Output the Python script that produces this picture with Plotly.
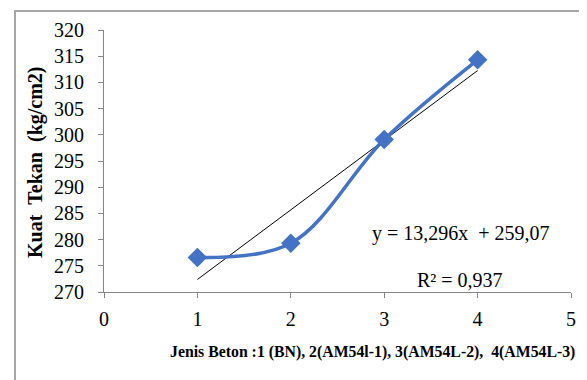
import numpy as np
import plotly.graph_objects as go

x_vals = [1, 2, 3, 4]
y_vals = [276.6, 279.3, 299.1, 314.3]
x_ticks = [0, 1, 2, 3, 4, 5]
y_ticks = [270, 275, 280, 285, 290, 295, 300, 305, 310, 315, 320]
eq_text = "y = 13,296x&nbsp;&nbsp;+ 259,07"
r2_text = "R² = 0,937"
x_title = "Jenis Beton :1 (BN), 2(AM54l-1), 3(AM54L-2),&nbsp; 4(AM54L-3)"
y_title = "Kuat&nbsp;&nbsp;Tekan&nbsp;&nbsp;(kg/cm2)"

slope, intercept = np.polyfit(x_vals, y_vals, 1)
trend_x = [x_vals[0], x_vals[-1]]
trend_y = [slope * v + intercept for v in trend_x]

FONT = "Liberation Serif, Times New Roman, serif"

# page body has an 8px margin: figure origin is at (8, 8) on screen
OFF = 8
L, T, PW, PH = 104 - OFF, 30 - OFF, 467, 262
W, H = 579, 372


def px(sx):
    return (sx - OFF - L) / PW


def py(sy):
    return (T + PH - (sy - OFF)) / PH


fig = go.Figure()
fig.add_trace(go.Scatter(x=trend_x, y=trend_y, mode="lines",
                         line=dict(color="black", width=1), hoverinfo="skip"))
fig.add_trace(go.Scatter(x=x_vals, y=y_vals, mode="lines+markers",
                         line=dict(color="#4472C4", width=3.5, shape="spline", smoothing=1.0),
                         marker=dict(symbol="diamond", size=15, color="#4472C4")))

fig.update_layout(
    width=W, height=H,
    margin=dict(l=L, r=W - L - PW, t=T, b=H - T - PH),
    paper_bgcolor="white", plot_bgcolor="white",
    showlegend=False,
    font=dict(family=FONT, color="black"),
    xaxis=dict(range=[0, 5], tickvals=x_ticks, showgrid=False, zeroline=False,
               showline=True, linecolor="#868686", linewidth=1,
               ticks="outside", ticklen=5, tickcolor="#868686",
               tickfont=dict(family=FONT, size=20), ticklabelstandoff=4),
    yaxis=dict(range=[270, 320], tickvals=y_ticks, showgrid=False, zeroline=False,
               showline=True, linecolor="#868686", linewidth=1,
               ticks="outside", ticklen=5, tickcolor="#868686",
               tickfont=dict(family=FONT, size=20), ticklabelstandoff=10),
    annotations=[
        dict(text=f"<b>{x_title}</b>", xref="paper", yref="paper",
             x=px(372.5), y=py(352), xanchor="center", yanchor="middle",
             showarrow=False, font=dict(size=15.8, family=FONT)),
        dict(text=f"<b>{y_title}</b>", xref="paper", yref="paper",
             x=px(35), y=py(162), xanchor="center", yanchor="middle",
             showarrow=False, textangle=-90, font=dict(size=20, family=FONT)),
        dict(text=eq_text, xref="paper", yref="paper",
             x=px(461), y=py(233), xanchor="center", yanchor="middle",
             showarrow=False, font=dict(size=20, family=FONT)),
        dict(text=r2_text, xref="paper", yref="paper",
             x=px(460), y=py(280), xanchor="center", yanchor="middle",
             showarrow=False, font=dict(size=20, family=FONT)),
    ],
    shapes=[dict(type="rect", xref="paper", yref="paper",
                 x0=px(15), x1=px(620), y0=py(420), y1=py(11),
                 line=dict(color="#A6A6A6", width=2), layer="below")],
)

fig.write_html("out.html")
